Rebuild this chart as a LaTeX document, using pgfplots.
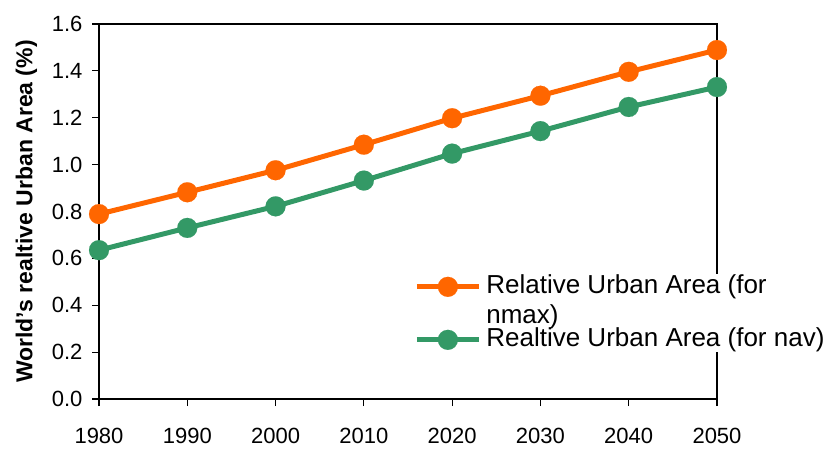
\documentclass[border=0pt]{standalone}
\usepackage{fontspec}
\setmainfont{Liberation Sans}
\usepackage{pgfplots}
\pgfplotsset{compat=1.18}
\definecolor{orangeA}{HTML}{FF6600}
\definecolor{greenA}{HTML}{339966}
\begin{document}
\begin{tikzpicture}[x=1pt,y=1pt]
\useasboundingbox (0,0) rectangle (831,448);
\begin{axis}[
  at={(99pt,49pt)}, anchor=south west,
  scale only axis, width=618pt, height=375pt,
  xmin=1980, xmax=2050, ymin=0, ymax=1.6,
  xtick={1980,1990,2000,2010,2020,2030,2040,2050},
  ytick={0,0.2,0.4,0.6,0.8,1.0,1.2,1.4,1.6},
  tick align=outside, major tick length=7pt,
  axis line style={line width=1.5pt},
  tick style={line width=1.2pt, black},
  xtick pos=bottom, ytick pos=left,
  /pgf/number format/assume math mode=true,
  x tick label style={yshift=-19pt, /pgf/number format/1000 sep={}},
  y tick label style={xshift=-6pt, /pgf/number format/fixed, /pgf/number format/fixed zerofill, /pgf/number format/precision=1},
  ticklabel style={font=\fontsize{22}{26}\selectfont},
  ylabel={World’s realtive Urban Area (\%)},
  ylabel style={font=\bfseries\fontsize{23}{27}\selectfont, at={(axis description cs:-0.108,0.5)}, anchor=base},
  clip=false,
  legend image code/.code={\draw[mark repeat=2,mark phase=2,#1] plot coordinates {(0pt,0pt) (31pt,0pt) (62pt,0pt)};},
  legend cell align=left,
  legend style={draw=none, fill=white, at={(axis description cs:0.510,0.333)}, anchor=north west,
    font=\fontsize{26}{30}\selectfont, inner sep=0pt,
    nodes={inner sep=0pt, text height=19pt, text depth=6pt},
    row sep=28pt,
    /tikz/every odd column/.append style={column sep=5pt}},
]
\addplot[color=orangeA, line width=5pt, mark=*, mark size=10pt, mark options={fill=orangeA, line width=0.1pt}]
  coordinates {(1980,0.789) (1990,0.882) (2000,0.976) (2010,1.085) (2020,1.198) (2030,1.294) (2040,1.396) (2050,1.489)};
\addlegendentry{\smash{\begin{tabular}[t]{@{}l@{}}Relative Urban Area (for\\nmax)\end{tabular}}}
\addplot[color=greenA, line width=5pt, mark=*, mark size=10pt, mark options={fill=greenA, line width=0.1pt}]
  coordinates {(1980,0.635) (1990,0.730) (2000,0.822) (2010,0.932) (2020,1.047) (2030,1.143) (2040,1.246) (2050,1.331)};
\addlegendentry{Realtive Urban Area (for nav)}
\end{axis}
\end{tikzpicture}
\end{document}
